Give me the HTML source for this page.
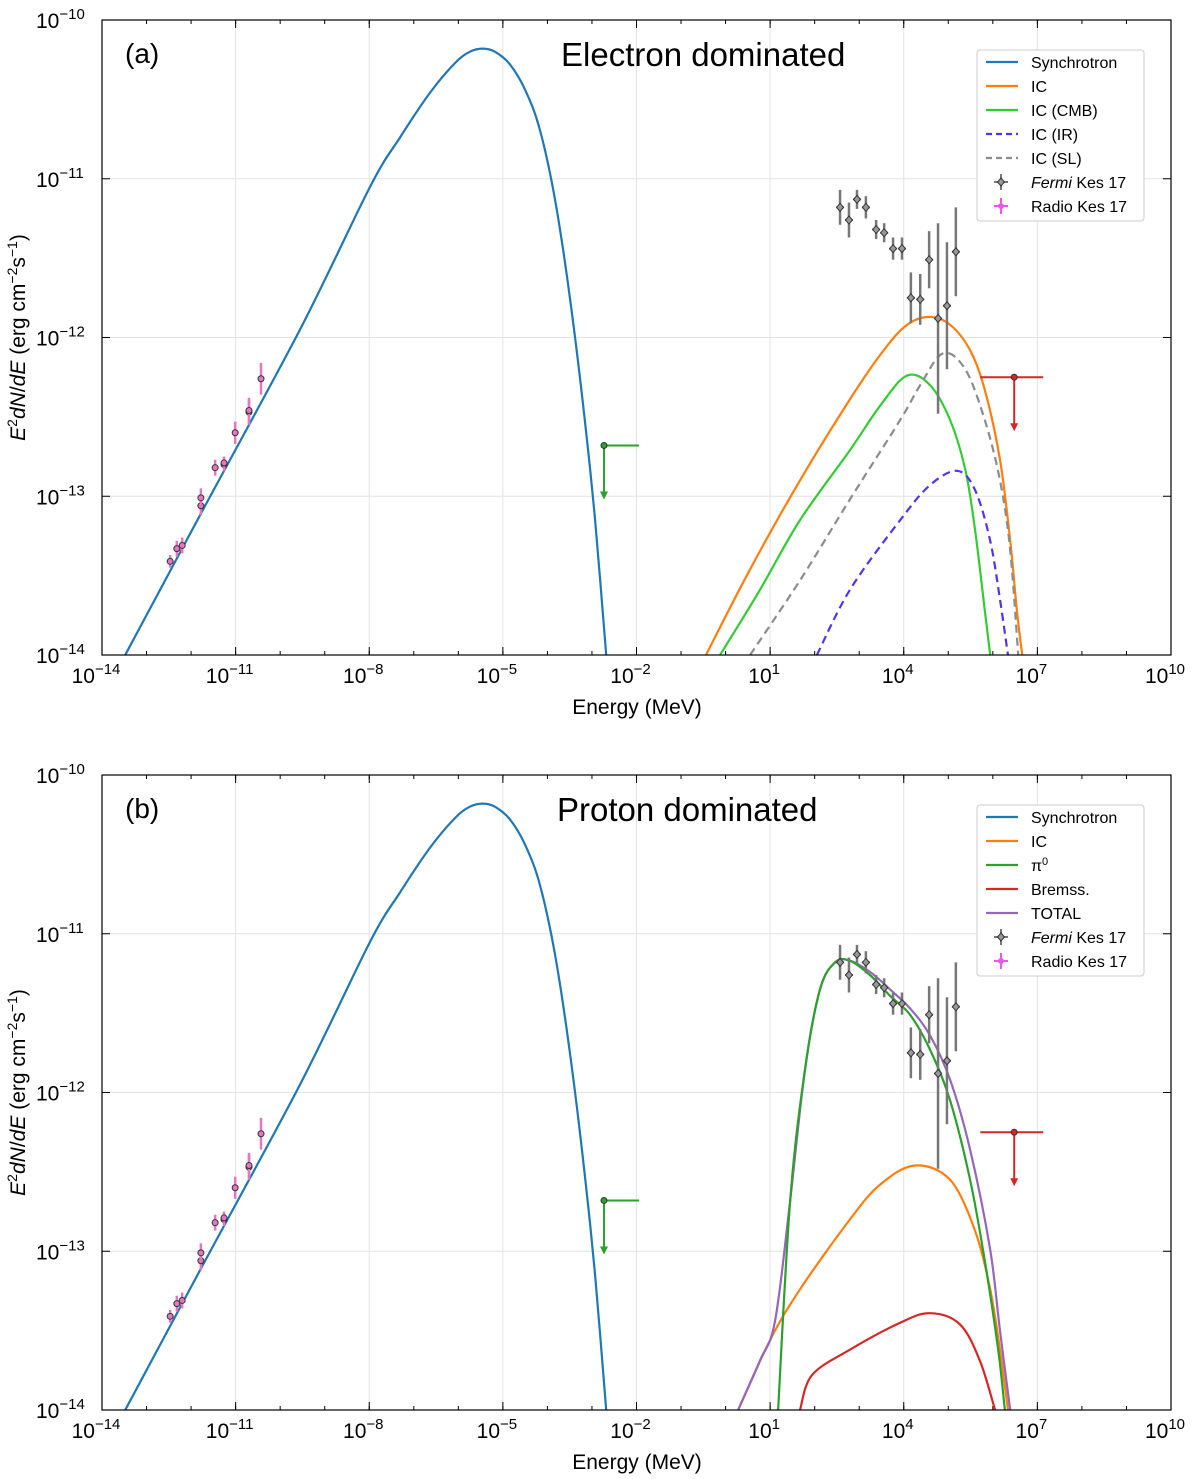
<!DOCTYPE html>
<html><head><meta charset="utf-8"><style>
body{margin:0;background:#fff;}
svg{display:block;font-family:"Liberation Sans",sans-serif;}
</style></head><body>
<svg id="c" width="1200" height="1479" xmlns="http://www.w3.org/2000/svg"></svg>
<script>
// ---- data (log10 values) ----
const synchX=[-13.48,-11.80,-9.555,-7.98,-7.31,-6.64,-6.07,-5.74,-5.45,-5.18,-4.84,-4.50,-4.17,-3.83,-3.49,-3.16,-2.93,-2.68];
const synchY=[-14.0,-13.12,-11.95,-11.05,-10.74,-10.46,-10.27,-10.20,-10.18,-10.20,-10.28,-10.44,-10.69,-11.13,-11.76,-12.52,-13.15,-14.0];
const icAX=[-0.44,0.55,1.67,2.79,3.47,4.03,4.55,5.04,5.49,5.82,6.16,6.39,6.54,6.66];
const icAY=[-14.0,-13.46,-12.90,-12.39,-12.11,-11.93,-11.87,-11.92,-12.08,-12.33,-12.77,-13.28,-13.72,-14.0];
const cmbX=[-0.125,0.77,1.67,2.79,3.47,4.07,4.59,5.04,5.38,5.60,5.82,5.94];
const cmbY=[-14,-13.59,-13.15,-12.71,-12.43,-12.24,-12.30,-12.52,-12.83,-13.21,-13.72,-14];
const slX=[0.55,1.67,2.79,3.92,4.37,4.88,5.38,5.82,6.16,6.39,6.57];
const slY=[-14,-13.53,-13.02,-12.52,-12.30,-12.10,-12.20,-12.52,-12.90,-13.34,-14];
const irX=[2.05,2.79,3.92,4.59,5.20,5.60,5.94,6.16,6.34];
const irY=[-14,-13.59,-13.15,-12.93,-12.84,-12.96,-13.28,-13.65,-14];
const icBX=[0.28,0.998,1.67,2.79,3.47,4.25,5.04,5.60,5.94,6.16,6.34];
const icBY=[-14,-13.56,-13.24,-12.80,-12.58,-12.46,-12.55,-12.87,-13.24,-13.62,-14];
const bremX=[1.67,1.94,2.79,3.92,4.59,5.26,5.71,6.05];
const bremY=[-14,-13.78,-13.62,-13.45,-13.39,-13.46,-13.69,-14];
const pi0X=[1.18,1.45,1.78,2.12,2.46,2.79,3.24,3.69,4.14,4.59,5.04,5.49,5.82,6.12,6.27];
const pi0Y=[-14,-12.68,-11.86,-11.35,-11.18,-11.17,-11.26,-11.39,-11.51,-11.73,-12.05,-12.55,-13.06,-13.62,-14];
const totX=[0.28,0.77,1.11,1.45,1.78,2.12,2.46,2.79,3.24,3.69,4.14,4.59,5.04,5.49,5.94,6.16,6.39];
const totY=[-14,-13.69,-13.44,-12.68,-11.86,-11.35,-11.18,-11.17,-11.24,-11.35,-11.47,-11.64,-11.92,-12.36,-12.99,-13.50,-14];
const fermiX=[2.57,2.77,2.95,3.15,3.38,3.56,3.76,3.96,4.16,4.37,4.57,4.77,4.97,5.17];
const fermiY=[-11.18,-11.26,-11.13,-11.18,-11.32,-11.34,-11.44,-11.44,-11.75,-11.76,-11.51,-11.88,-11.80,-11.46];
const fermiErr=[0.11,0.11,0.06,0.07,0.06,0.06,0.07,0.07,0.16,0.16,0.18,0.6,0.4,0.28];
const radioX=[-12.47,-12.32,-12.20,-11.78,-11.78,-11.46,-11.26,-11.26,-11.01,-10.70,-10.70,-10.43];
const radioY=[-13.41,-13.33,-13.31,-13.06,-13.01,-12.82,-12.80,-12.79,-12.60,-12.47,-12.46,-12.26];
const radioErr=[0.04,0.05,0.05,0.06,0.06,0.05,0.04,0.04,0.07,0.08,0.08,0.1];
const ulX=[-2.73,6.48];
const ulY=[-12.68,-12.25];
const xTicks=[-14,-11,-8,-5,-2,1,4,7,10];
const yTicks=[-10,-11,-12,-13,-14];

const svg=document.getElementById('c');
const NS='http://www.w3.org/2000/svg';
function el(tag,attrs,parent){const e=document.createElementNS(NS,tag);for(const k in attrs)e.setAttribute(k,attrs[k]);(parent||svg).appendChild(e);return e;}
const L=102,R=1171;
const sx=v=>L+(v+14)*(R-L)/24;

function smooth(P){
  let d='M'+P[0][0].toFixed(1)+','+P[0][1].toFixed(1);
  for(let i=0;i<P.length-1;i++){
    const p0=P[Math.max(0,i-1)],p1=P[i],p2=P[i+1],p3=P[Math.min(P.length-1,i+2)];
    const c1=[p1[0]+(p2[0]-p0[0])/6,p1[1]+(p2[1]-p0[1])/6];
    const c2=[p2[0]-(p3[0]-p1[0])/6,p2[1]-(p3[1]-p1[1])/6];
    d+=` C${c1[0].toFixed(1)},${c1[1].toFixed(1)} ${c2[0].toFixed(1)},${c2[1].toFixed(1)} ${p2[0].toFixed(1)},${p2[1].toFixed(1)}`;
  }
  return d;
}

function panel(top,label,title,curves,legend,pname){
  const bot=top+635;
  const sy=v=>top+(-10-v)*(bot-top)/4;
  const g=el('g',{});
  
  
  for(let d=-14;d<=10;d+=3){if(d===-14||d===10)continue;const l=el('line',{x1:sx(d),x2:sx(d),y1:top,y2:bot,stroke:'#e3e3e3','stroke-width':1},g);}
  for(let d=-13;d<=-11;d++){const l=el('line',{x1:L,x2:R,y1:sy(d),y2:sy(d),stroke:'#e3e3e3','stroke-width':1},g);}
  for(let d=-14;d<=10;d++){el('line',{x1:sx(d),x2:sx(d),y1:bot,y2:bot-4,stroke:'#000'},g);el('line',{x1:sx(d),x2:sx(d),y1:top,y2:top+4,stroke:'#000'},g);}
  for(let d=-14;d<=10;d+=3){el('line',{x1:sx(d),x2:sx(d),y1:bot,y2:bot-8,stroke:'#000'},g);el('line',{x1:sx(d),x2:sx(d),y1:top,y2:top+8,stroke:'#000'},g);}
  for(const d of yTicks){el('line',{x1:L,x2:L+8,y1:sy(d),y2:sy(d),stroke:'#000'},g);el('line',{x1:R,x2:R-8,y1:sy(d),y2:sy(d),stroke:'#000'},g);}
  const clip='clip'+top;
  const cp=el('clipPath',{id:clip},g);el('rect',{x:L,y:top,width:R-L,height:bot-top},cp);
  for(const c of curves){
    const P=c.x.map((v,i)=>[sx(v),sy(c.y[i])]);
    const p=el('path',{d:smooth(P),fill:'none',stroke:c.col,'stroke-width':2.2,'stroke-dasharray':c.dash||'none','clip-path':'url(#'+clip+')'},g);
    
    
  }
  const ulCol=['#2ca02c','#d62728'];
  for(let i=0;i<ulX.length;i++){
    const x=sx(ulX[i]),y=sy(ulY[i]);const c=ulCol[i];
    const ug=el('g',{},g);
    
    
    const x0=i?x-34:x,x1=i?x+29:x+35;
    el('line',{x1:x0,x2:x1,y1:y,y2:y,stroke:c,'stroke-width':2},ug);
    el('line',{x1:x,x2:x,y1:y,y2:y+48,stroke:c,'stroke-width':2},ug);
    el('path',{d:`M${x-4},${y+46} L${x+4},${y+46} L${x},${y+54} Z`,fill:c},ug);
    el('circle',{cx:x,cy:y,r:3,fill:c,stroke:'#333','stroke-width':1},ug);
  }
  for(let i=0;i<fermiX.length;i++){
    const x=sx(fermiX[i]),y=sy(fermiY[i]);
    const fg=el('g',{},g);
    
    
    el('line',{x1:x,x2:x,y1:sy(fermiY[i]+fermiErr[i]),y2:sy(fermiY[i]-fermiErr[i]),stroke:'#777','stroke-width':2.5},fg);
    el('line',{x1:x-4,x2:x+4,y1:y,y2:y,stroke:'#777','stroke-width':2},fg);
    el('path',{d:`M${x},${y-4} L${x+3.5},${y} L${x},${y+4} L${x-3.5},${y} Z`,fill:'#999',stroke:'#333','stroke-width':1},fg);
  }
  for(let i=0;i<radioX.length;i++){
    const x=sx(radioX[i]),y=sy(radioY[i]);
    const rg=el('g',{},g);
    
    
    el('line',{x1:x,x2:x,y1:sy(radioY[i]+radioErr[i]),y2:sy(radioY[i]-radioErr[i]),stroke:'#e377c2','stroke-width':2.5},rg);
    el('circle',{cx:x,cy:y,r:3,fill:'#e377c2',stroke:'#333','stroke-width':1},rg);
  }
  el('rect',{x:L,y:top,width:R-L,height:bot-top,fill:'none',stroke:'#000','stroke-width':1.2},g);
  for(const d of xTicks){
    const t=el('text',{x:sx(d)-6,y:bot+28,'font-size':21,'text-anchor':'middle'},g);
    
    
    t.innerHTML=`10<tspan dy="-9" font-size="15">${String(d).replace('-','\u2212')}</tspan>`;
  }
  for(const d of yTicks){
    const t=el('text',{x:36,y:sy(d)+8,'font-size':21},g);
    
    
    t.innerHTML=`10<tspan dy="-9" font-size="15">${String(d).replace('-','\u2212')}</tspan>`;
  }
  const xt=el('text',{x:637,y:bot+59,'font-size':21,'text-anchor':'middle'},g);
  
  
  xt.textContent='Energy (MeV)';
  const yt=el('text',{x:0,y:0,'font-size':21,'text-anchor':'middle',transform:`translate(25,${(top+bot)/2}) rotate(-90)`},g);
  
  
  yt.innerHTML=`<tspan font-style="italic">E</tspan><tspan dy="-8" font-size="14">2</tspan><tspan dy="8" font-style="italic">dN</tspan>/<tspan font-style="italic">dE</tspan> (erg cm<tspan dy="-8" font-size="14">−2</tspan><tspan dy="8">s</tspan><tspan dy="-8" font-size="14">−1</tspan><tspan dy="8">)</tspan>`;
  const pl=el('text',{x:125,y:top+43,'font-size':28},g);
  
  
  pl.textContent=label;
  const tt=el('text',{x:title[1],y:top+46,'font-size':33},g);
  
  
  tt.textContent=title[0];
  const lg=el('g',{},g);
  
  
  el('rect',{x:977,y:top+30,width:167,height:171,rx:3,fill:'#fff',stroke:'#ccc'},lg);
  legend.forEach((e,i)=>{
    const y=top+42+i*24;
    const eg=el('g',{},lg);
    
    
    if(e.type==='line'){el('line',{x1:986,x2:1018,y1:y,y2:y,stroke:e.col,'stroke-width':2.2,'stroke-dasharray':e.dash||'none'},eg);}
    else{el('line',{x1:1001,x2:1001,y1:y-8,y2:y+8,stroke:e.col,'stroke-width':2},eg);el('line',{x1:994,x2:1008,y1:y,y2:y,stroke:e.col,'stroke-width':2},eg);
      if(e.type==='fermi')el('path',{d:`M1001,${y-4} L1004.5,${y} L1001,${y+4} L997.5,${y} Z`,fill:'#999',stroke:'#333'},eg);
      else el('circle',{cx:1001,cy:y,r:3,fill:'#e5e'},eg);}
    const t=el('text',{x:1031,y:y+6,'font-size':16},eg);t.innerHTML=e.label;
  });
}
const fermiLeg={type:'fermi',col:'#777',label:'<tspan font-style="italic">Fermi</tspan> Kes 17'};
const radioLeg={type:'radio',col:'#e5e',label:'Radio Kes 17'};
panel(20,'(a)',['Electron dominated',561],[
  {x:synchX,y:synchY,col:'#1f77b4',name:'synchrotron-curve'},
  {x:icAX,y:icAY,col:'#ff7f0e',name:'ic-curve'},
  {x:cmbX,y:cmbY,col:'#33cc33',name:'ic-cmb-curve'},
  {x:irX,y:irY,col:'#5533ee',dash:'8,5',name:'ic-ir-curve'},
  {x:slX,y:slY,col:'#8c8c8c',dash:'8,5',name:'ic-sl-curve'}
],[{type:'line',col:'#1f77b4',label:'Synchrotron'},{type:'line',col:'#ff7f0e',label:'IC'},{type:'line',col:'#33cc33',label:'IC (CMB)'},{type:'line',col:'#5533ee',dash:'6,4',label:'IC (IR)'},{type:'line',col:'#8c8c8c',dash:'6,4',label:'IC (SL)'},fermiLeg,radioLeg],'panel-electron');
panel(775,'(b)',['Proton dominated',557],[
  {x:synchX,y:synchY,col:'#1f77b4',name:'synchrotron-curve'},
  {x:icBX,y:icBY,col:'#ff7f0e',name:'ic-curve'},
  {x:bremX,y:bremY,col:'#d62728',name:'bremsstrahlung-curve'},
  {x:totX,y:totY,col:'#9467bd',name:'total-curve'},
  {x:pi0X,y:pi0Y,col:'#2ca02c',name:'pi0-curve'}
],[{type:'line',col:'#1f77b4',label:'Synchrotron'},{type:'line',col:'#ff7f0e',label:'IC'},{type:'line',col:'#2ca02c',label:'π<tspan dy="-6" font-size="11">0</tspan>'},{type:'line',col:'#d62728',label:'Bremss.'},{type:'line',col:'#9467bd',label:'TOTAL'},fermiLeg,radioLeg],'panel-proton');
</script>
</body></html>
